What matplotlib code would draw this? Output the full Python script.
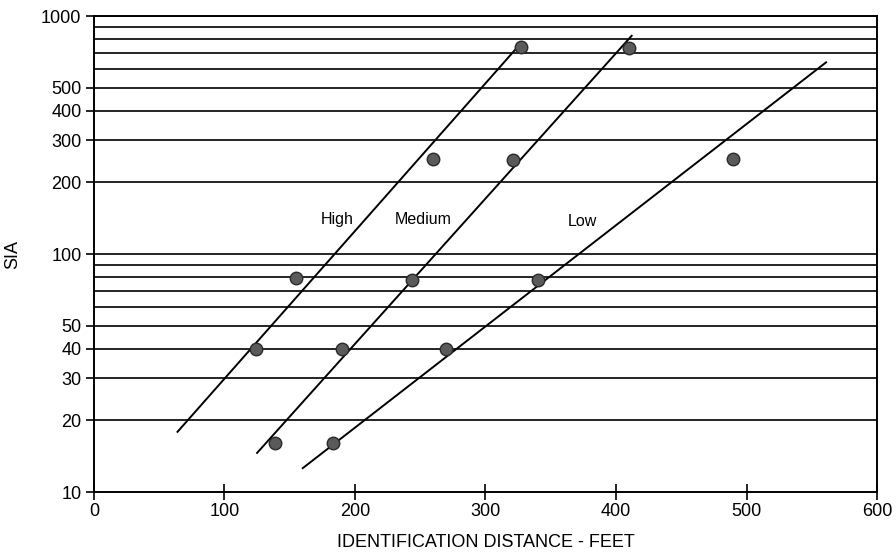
import matplotlib
matplotlib.use("Agg")
import matplotlib.pyplot as plt
from matplotlib.ticker import FixedLocator, NullLocator, NullFormatter

plt.rcParams["font.family"] = ["Liberation Sans", "DejaVu Sans"]

# measured points (distance in feet, SIA)
high_x = [124, 155, 260, 327]
high_y = [40, 79, 250, 740]
medium_x = [139, 190, 244, 321, 410]
medium_y = [16, 40, 78, 248, 735]
low_x = [183, 270, 340, 490]
low_y = [16, 40, 78, 250]

# fitted line end points
high_line_x = [64, 328]
high_line_y = [17.9, 778]
medium_line_x = [125, 412]
medium_line_y = [14.6, 826]
low_line_x = [160, 561]
low_line_y = [12.6, 639]

labels = ["High", "Medium", "Low"]
label_x = [186, 252, 374]
label_y = [139, 139, 137]

grid_values = [20, 30, 40, 50, 60, 70, 80, 90, 100,
               200, 300, 400, 500, 600, 700, 800, 900, 1000]
y_ticks = [10, 20, 30, 40, 50, 100, 200, 300, 400, 500, 1000]
x_ticks = [0, 100, 200, 300, 400, 500, 600]

fig = plt.figure(figsize=(8.96, 5.56), dpi=100)
ax = fig.add_axes([0.1049, 0.1151, 0.8739, 0.8561])
ax.set_yscale("log")
ax.set_xlim(0, 600)
ax.set_ylim(10, 1000)

for g in grid_values:
    ax.axhline(g, color="black", lw=1.2, zorder=1)

for lx, ly in [(high_line_x, high_line_y), (medium_line_x, medium_line_y),
               (low_line_x, low_line_y)]:
    ax.plot(lx, ly, color="black", lw=1.4, zorder=2)

for px, py in [(high_x, high_y), (medium_x, medium_y), (low_x, low_y)]:
    ax.plot(px, py, "o", ms=9, mfc="#5a5a5a", mec="#2a2a2a", mew=1.0,
            ls="none", zorder=3)

for t, tx, ty in zip(labels, label_x, label_y):
    ax.text(tx, ty, t, ha="center", va="center", fontsize=11.5, zorder=4)

ax.yaxis.set_major_locator(FixedLocator(y_ticks))
ax.yaxis.set_minor_locator(NullLocator())
ax.yaxis.set_minor_formatter(NullFormatter())
ax.set_yticklabels([str(v) for v in y_ticks])
ax.set_xticks(x_ticks)

ax.tick_params(axis="y", direction="out", length=6, width=1.2, labelsize=13, pad=3)
ax.tick_params(axis="x", direction="inout", length=12, width=1.2, labelsize=13, pad=2)

for s in ax.spines.values():
    s.set_linewidth(1.4)

ax.set_xlabel("IDENTIFICATION DISTANCE - FEET", fontsize=13, labelpad=10)
ax.set_ylabel("SIA", fontsize=13, labelpad=14)

fig.savefig("out.png", dpi=100)
